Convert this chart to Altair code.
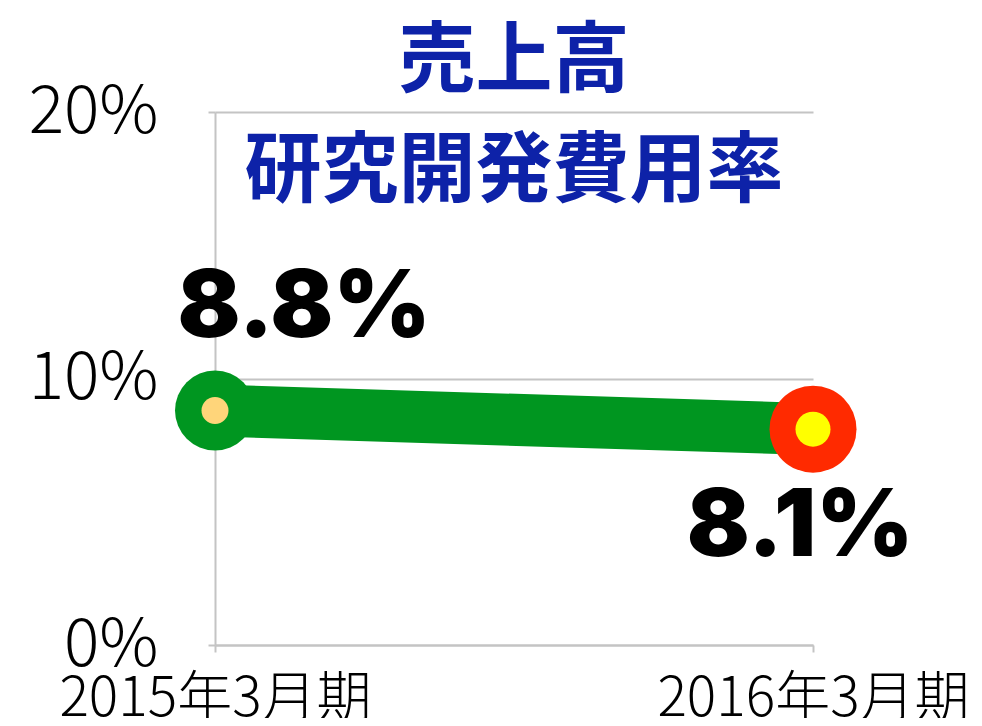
import altair as alt
import pandas as pd

periods = ["2015年3月期", "2016年3月期"]
rates = [0.088, 0.081]
labels = ["8.8%", "8.1%"]
title_lines = ["売上高", "研究開発費用率"]

outer_colors = ["#009620", "#ff2a00"]
inner_colors = ["#ffd57a", "#ffff00"]

df = pd.DataFrame({"period": periods, "rate": rates, "label": labels})

x = alt.X("period:N", sort=periods,
          scale=alt.Scale(type="point", padding=0),
          axis=alt.Axis(title=None, labelAngle=0, labelFontSize=55,
                        labelFont="Noto Sans CJK JP", labelColor="#000000",
                        labelFontWeight=300,
                        labelPadding=20, labelOverlap=False, labelBound=False,
                        labelFlush=False, labelLimit=0,
                        domainColor="#c4c4c4", domainWidth=2,
                        tickColor="#c4c4c4", tickWidth=2, tickSize=7,
                        grid=False))
y = alt.Y("rate:Q", scale=alt.Scale(domain=[0, 0.2]),
          axis=alt.Axis(title=None, values=[0, 0.1, 0.2], format=".0%",
                        labelFontSize=66, labelFont="Noto Sans CJK JP",
                        labelFontWeight=300, labelColor="#000000",
                        labelPadding=50, labelBaseline="middle",
                        domainColor="#c4c4c4", domainWidth=2,
                        tickColor="#c4c4c4", tickWidth=2, tickSize=7,
                        grid=True, gridColor="#c4c4c4", gridWidth=2))

base = alt.Chart(df)

line = base.mark_line(color="#009620", strokeWidth=52, strokeCap="butt").encode(x=x, y=y)

outer = base.mark_point(filled=True, shape="circle", opacity=1).encode(
    x=x, y=y,
    color=alt.Color("period:N", scale=alt.Scale(domain=periods, range=outer_colors), legend=None),
    size=alt.Size("period:N", scale=alt.Scale(domain=periods, range=[6400, 7569]), legend=None),
)
inner = base.mark_point(filled=True, shape="circle", opacity=1).encode(
    x=x, y=y,
    color=alt.Color("period:N", scale=alt.Scale(domain=periods, range=inner_colors), legend=None),
    size=alt.Size("period:N", scale=alt.Scale(domain=periods, range=[729, 1225]), legend=None),
)

lab1 = base.transform_filter(alt.datum.period == periods[0]).mark_text(
    font="Inter", fontWeight=900, fontSize=93, color="#000000",
    align="center", baseline="alphabetic", dx=89, dy=-73,
).encode(x=x, y=y, text="label:N")
lab2 = base.transform_filter(alt.datum.period == periods[1]).mark_text(
    font="Inter", fontWeight=900, fontSize=93, color="#000000",
    align="center", baseline="alphabetic", dx=-13, dy=127,
).encode(x=x, y=y, text="label:N")

chart = alt.layer(line, outer, inner, lab1, lab2).resolve_scale(
    color="independent", size="independent"
).properties(
    width=598, height=533,
    autosize=alt.AutoSizeParams(type="none"),
    padding={"left": 207, "top": 104, "right": 161, "bottom": 73},
    title=alt.TitleParams(text=title_lines, fontSize=77, font="Noto Sans CJK JP",
                          fontWeight="bold", color="#0d22a8", lineHeight=110,
                          anchor="middle", offset=-133),
).configure_view(stroke=None)

chart.save("out.html", embed_options={"renderer": "svg", "actions": False})
